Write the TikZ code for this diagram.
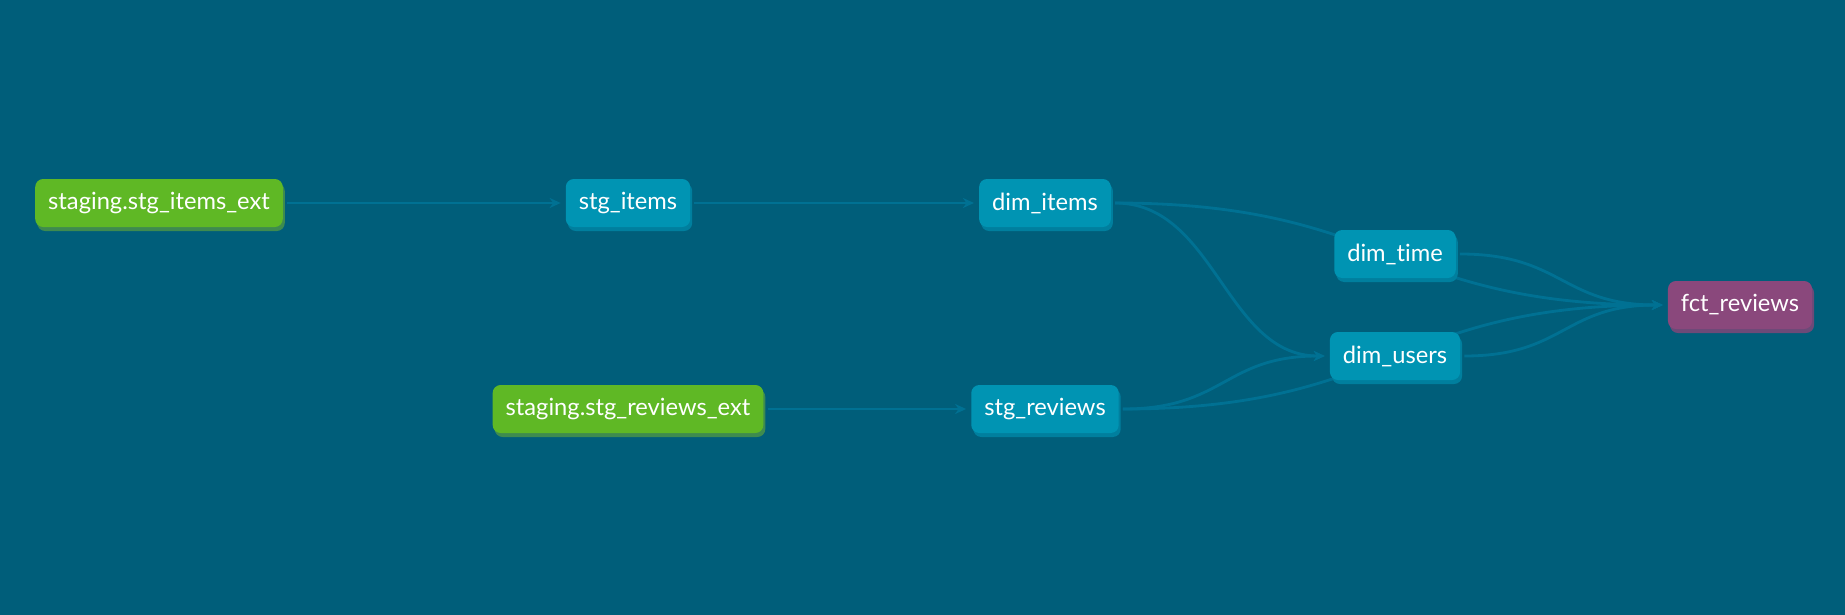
\documentclass[tikz,border=0pt]{standalone}
\usepackage{fontspec}
\setmainfont{Lato}[Ligatures=NoCommon]
\usetikzlibrary{arrows.meta,shadows}

\pgfdeclarelayer{bg}
\pgfsetlayers{bg,main}

\definecolor{bgblue}{HTML}{005E7A}
\definecolor{linkblue}{HTML}{007193}
\definecolor{srcgreen}{HTML}{5FB825}
\definecolor{srcshadow}{HTML}{3E8B4F}
\definecolor{mdlblue}{HTML}{0094B3}
\definecolor{mdlshadow}{HTML}{007F9E}
\definecolor{fctpurple}{HTML}{8A487C}
\definecolor{fctshadow}{HTML}{6C4A78}

\tikzset{
  box/.style={rounded corners=8pt, inner xsep=13pt, inner ysep=0pt,
    minimum height=48pt, text=white, font=\fontsize{23.7}{28}\selectfont},
  src/.style={box, fill=srcgreen,
    drop shadow={shadow xshift=2pt, shadow yshift=-4pt, fill=srcshadow, opacity=1}},
  mdl/.style={box, fill=mdlblue,
    drop shadow={shadow xshift=2pt, shadow yshift=-4pt, fill=mdlshadow, opacity=1}},
  fct/.style={box, fill=fctpurple,
    drop shadow={shadow xshift=2pt, shadow yshift=-4pt, fill=fctshadow, opacity=1}},
  link/.style={draw=linkblue, line width=2.8pt, shorten <=4pt, shorten >=5pt},
  tip/.style={-{Stealth[length=11pt,width=10pt]}},
  flow/.style={out=0, in=180, looseness=1.25}
}

\begin{document}
\begin{tikzpicture}[x=1pt,y=-1pt]
  % sources
  \node[src] (items_ext) at (159,203) {staging.stg\_items\_ext};
  \node[src] (reviews_ext) at (628,409) {staging.stg\_reviews\_ext};
  % staging models
  \node[mdl] (stg_items) at (628,203) {stg\_items};
  \node[mdl] (stg_reviews) at (1045,409) {stg\_reviews};
  % dimensions
  \node[mdl] (dim_items) at (1045,203) {dim\_items};
  \node[mdl] (dim_time) at (1395,254) {dim\_time};
  \node[mdl] (dim_users) at (1395,356) {dim\_users};
  % fact
  \node[fct] (fct_reviews) at (1740,305) {fct\_reviews};

  \begin{pgfonlayer}{bg}
    \fill[bgblue] (0,0) rectangle (1845,615);
    % lineage
    \draw[link,tip] (items_ext.east) -- (stg_items.west);
    \draw[link,tip] (stg_items.east) -- (dim_items.west);
    \draw[link,tip] (reviews_ext.east) -- (stg_reviews.west);
    \draw[link,tip] (dim_items.east) to[out=0,in=180] (dim_users.west);
    \draw[link,tip] (stg_reviews.east) to[flow] (dim_users.west);
    \draw[link,tip] (dim_items.east) to[flow] (fct_reviews.west);
    \draw[link,tip] (stg_reviews.east) to[flow] (fct_reviews.west);
    \draw[link,tip] (dim_time.east) to[flow] (fct_reviews.west);
    \draw[link,tip] (dim_users.east) to[flow] (fct_reviews.west);
  \end{pgfonlayer}
\end{tikzpicture}
\end{document}
